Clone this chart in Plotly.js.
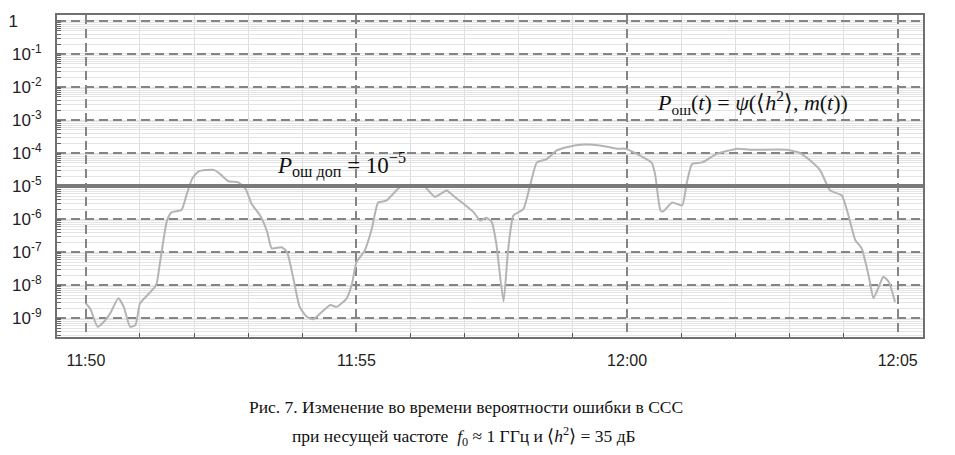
<!DOCTYPE html>
<html>
<head>
<meta charset="utf-8">
<script src="https://cdn.plot.ly/plotly-3.0.1.min.js"></script>
<style>
  html, body { margin: 0; padding: 0; background: #fff; }
  #chart { width: 955px; height: 455px; }
</style>
</head>
<body>
<div id="chart"></div>
<script>
const times = [
    '11:50:00', '11:50:05', '11:50:13', '11:50:20', '11:50:27', '11:50:36', '11:50:42', '11:50:49',
    '11:50:55', '11:51:00', '11:51:10', '11:51:18', '11:51:22', '11:51:30', '11:51:35', '11:51:46',
    '11:51:52', '11:51:58', '11:52:05', '11:52:22', '11:52:29', '11:52:38', '11:52:49', '11:52:57',
    '11:53:04', '11:53:13', '11:53:21', '11:53:26', '11:53:37', '11:53:43', '11:53:50', '11:53:57',
    '11:54:05', '11:54:12', '11:54:20', '11:54:31', '11:54:38', '11:54:49', '11:54:55', '11:55:00',
    '11:55:09', '11:55:17', '11:55:24', '11:55:33', '11:55:45', '11:55:50', '11:56:02', '11:56:14',
    '11:56:27', '11:56:40', '11:56:47', '11:56:58', '11:57:10', '11:57:17', '11:57:24', '11:57:30',
    '11:57:35', '11:57:43', '11:57:48', '11:57:54', '11:58:05', '11:58:12', '11:58:20', '11:58:31',
    '11:58:42', '11:58:53', '11:59:12', '11:59:30', '11:59:49', '11:59:58', '12:00:18', '12:00:27',
    '12:00:31', '12:00:37', '12:00:40', '12:00:50', '12:01:01', '12:01:06', '12:01:12', '12:01:23',
    '12:01:39', '12:02:02', '12:02:16', '12:02:57', '12:03:12', '12:03:23', '12:03:34', '12:03:45',
    '12:03:58', '12:04:05', '12:04:13', '12:04:20', '12:04:28', '12:04:33', '12:04:39', '12:04:44',
    '12:04:50', '12:04:57'
];

const pError = [
    2.8e-9, 1.9e-9, 5.5e-10, 7.8e-10, 1.4e-9, 4.0e-9, 2.2e-9, 5.5e-10,
    6.2e-10, 2.8e-9, 5.6e-9, 1.0e-8, 4.5e-8, 9.1e-7, 1.6e-6, 1.9e-6,
    5.9e-6, 1.7e-5, 2.8e-5, 3.1e-5, 2.3e-5, 1.4e-5, 1.3e-5, 8.3e-6,
    2.8e-6, 1.3e-6, 4.1e-7, 1.3e-7, 1.4e-7, 1.0e-7, 1.6e-8, 2.2e-9,
    1.1e-9, 9.3e-10, 1.4e-9, 2.5e-9, 2.2e-9, 3.9e-9, 1.1e-8, 5.0e-8,
    1.1e-7, 5.1e-7, 3.2e-6, 3.6e-6, 7.8e-6, 1.0e-5, 9.3e-6, 1.05e-5,
    4.7e-6, 7.4e-6, 5.2e-6, 3.0e-6, 1.6e-6, 9.1e-7, 1.1e-6, 8.1e-7,
    1.8e-7, 3.2e-9, 1.1e-7, 1.3e-6, 2.0e-6, 9.3e-6, 5.2e-5, 6.6e-5,
    1.2e-4, 1.5e-4, 1.8e-4, 1.7e-4, 1.35e-4, 1.35e-4, 7.4e-5, 5.2e-5,
    2.3e-5, 1.8e-6, 1.7e-6, 3.2e-6, 2.6e-6, 1.2e-5, 4.7e-5, 5.2e-5,
    9.3e-5, 1.35e-4, 1.26e-4, 1.26e-4, 1.0e-4, 5.9e-5, 3.0e-5, 7.4e-6,
    5.2e-6, 1.4e-6, 2.3e-7, 1.3e-7, 1.8e-8, 4.0e-9, 8.9e-9, 1.8e-8,
    1.26e-8, 3.1e-9
];

// Допустимая вероятность ошибки
const pAllowed = 1e-5;

// Подписи осей
const yTickVals = [1, 1e-1, 1e-2, 1e-3, 1e-4, 1e-5, 1e-6, 1e-7, 1e-8, 1e-9];
const yTickText = ['1&nbsp;&nbsp;&nbsp;&nbsp;&nbsp;', '10<sup>-1</sup>', '10<sup>-2</sup>', '10<sup>-3</sup>',
    '10<sup>-4</sup>', '10<sup>-5</sup>', '10<sup>-6</sup>', '10<sup>-7</sup>', '10<sup>-8</sup>', '10<sup>-9</sup>'];

const day = '2000-01-01 ';
const serif = 'Liberation Serif, Times New Roman, serif';

const data = [{
    x: times.map(t => day + t),
    y: pError,
    type: 'scatter',
    mode: 'lines',
    line: { color: '#b4b4b4', width: 2, shape: 'spline', smoothing: 0.5 },
    hoverinfo: 'skip'
}];

const layout = {
    width: 955,
    height: 455,
    margin: { l: 57, r: 32, t: 15, b: 118 },
    paper_bgcolor: '#ffffff',
    plot_bgcolor: '#ffffff',
    showlegend: false,
    font: { family: 'Liberation Sans, Arial, sans-serif', color: '#222' },
    xaxis: {
        type: 'date',
        range: [day + '11:49:28', day + '12:05:28'],
        tick0: day + '11:50:00',
        dtick: 300000,
        tickformat: '%H:%M',
        tickfont: { size: 16, color: '#222' },
        ticks: '',
        ticklabelstandoff: 8,
        showgrid: true,
        gridcolor: '#858585',
        gridwidth: 2,
        griddash: '9px,5px',
        minor: {
            dtick: 60000,
            showgrid: true,
            gridcolor: '#dedede',
            gridwidth: 1,
            griddash: 'solid',
            ticks: 'inside',
            ticklen: 4,
            tickcolor: '#555'
        },
        showline: true,
        linecolor: '#707070',
        linewidth: 2,
        mirror: true,
        zeroline: false
    },
    yaxis: {
        type: 'log',
        range: [-9.57, 0.18],
        tickvals: yTickVals,
        ticktext: yTickText,
        tickfont: { size: 17, color: '#222' },
        ticks: '',
        ticklabelstandoff: 10,
        showgrid: true,
        gridcolor: '#858585',
        gridwidth: 2,
        griddash: '9px,5px',
        minor: {
            dtick: 'D1',
            showgrid: true,
            gridcolor: '#e4e4e4',
            gridwidth: 1,
            griddash: 'solid',
            ticks: 'inside',
            ticklen: 4,
            tickcolor: '#666'
        },
        showline: true,
        linecolor: '#707070',
        linewidth: 2,
        mirror: true,
        zeroline: false
    },
    shapes: [{
        type: 'line',
        xref: 'paper',
        x0: 0,
        x1: 1,
        yref: 'y',
        y0: pAllowed,
        y1: pAllowed,
        line: { color: '#7a7a7a', width: 4 }
    }],
    annotations: [
        {
            xref: 'paper', yref: 'paper',
            x: 0.252, y: 0.535,
            xanchor: 'left', yanchor: 'middle',
            showarrow: false,
            text: '<i>P</i><sub>ош доп</sub> = 10<sup>−5</sup>',
            font: { family: serif, size: 23, color: '#111' }
        },
        {
            xref: 'paper', yref: 'paper',
            x: 0.69, y: 0.728,
            xanchor: 'left', yanchor: 'middle',
            showarrow: false,
            text: '<i>P</i><sub>ош</sub>(<i>t</i>) = <i>ψ</i>(⟨<i>h</i><sup>2</sup>⟩, <i>m</i>(<i>t</i>))',
            font: { family: serif, size: 22, color: '#111' }
        },
        {
            xref: 'paper', yref: 'paper',
            x: 0.5, y: (455 - 407 - 118) / 322,
            xanchor: 'center', yanchor: 'middle',
            xshift: -24,
            showarrow: false,
            text: 'Рис. 7. Изменение во времени вероятности ошибки в ССС',
            font: { family: serif, size: 17.5, color: '#111' }
        },
        {
            xref: 'paper', yref: 'paper',
            x: 0.5, y: (455 - 436 - 118) / 322,
            xanchor: 'center', yanchor: 'middle',
            xshift: -26,
            showarrow: false,
            text: 'при несущей частоте  <i>f</i><sub>0</sub> ≈ 1 ГГц и ⟨<i>h</i><sup>2</sup>⟩ = 35 дБ',
            font: { family: serif, size: 17.5, color: '#111' }
        }
    ]
};

Plotly.newPlot('chart', data, layout, { staticPlot: true, displayModeBar: false });
</script>
</body>
</html>
